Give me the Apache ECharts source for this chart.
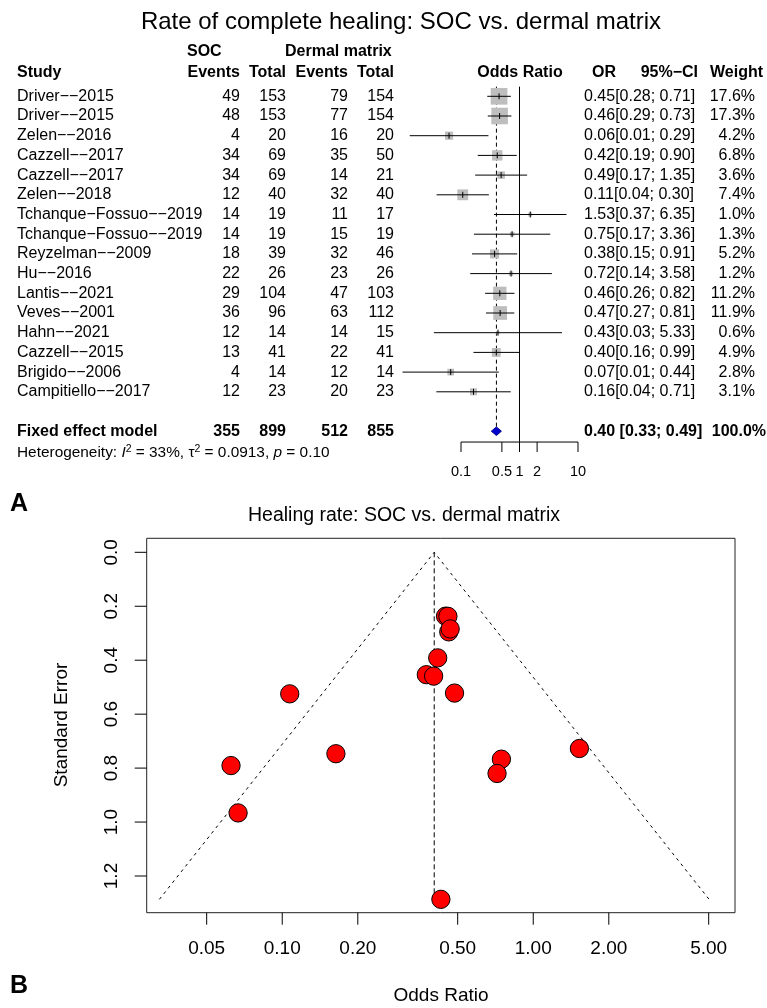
<!DOCTYPE html>
<html><head><meta charset="utf-8">
<script src="https://cdn.jsdelivr.net/npm/echarts@6/dist/echarts.min.js"></script>
<style>html,body{margin:0;padding:0;background:#fff}#c{width:767px;height:1008px}</style>
</head><body><div id="c"></div>
<script>
// ---------------- data ----------------
const studies = ['Driver−−2015','Driver−−2015','Zelen−−2016','Cazzell−−2017','Cazzell−−2017','Zelen−−2018',
  'Tchanque−Fossuo−−2019','Tchanque−Fossuo−−2019','Reyzelman−−2009','Hu−−2016','Lantis−−2021','Veves−−2001',
  'Hahn−−2021','Cazzell−−2015','Brigido−−2006','Campitiello−−2017'];
const socEvents = [49,48,4,34,34,12,14,14,18,22,29,36,12,13,4,12];
const socTotal  = [153,153,20,69,69,40,19,19,39,26,104,96,14,41,14,23];
const dmEvents  = [79,77,16,35,14,32,11,15,32,23,47,63,14,22,12,20];
const dmTotal   = [154,154,20,50,21,40,17,19,46,26,103,112,15,41,14,23];
const oddsRatio = [0.4473,0.4571,0.0625,0.4163,0.4857,0.1071,1.5273,0.7467,0.375,0.7174,0.4607,0.4667,0.4286,0.401,0.0667,0.1636];
const ciLower   = [0.2813,0.2871,0.0133,0.1933,0.1747,0.0383,0.3671,0.1661,0.1541,0.1438,0.2585,0.2674,0.0344,0.1631,0.0100,0.0379];
const ciUpper   = [0.7113,0.7278,0.2943,0.8965,1.3507,0.2996,6.354,3.357,0.9126,3.578,0.8212,0.8144,5.333,0.986,0.4429,0.7071];
const weights   = [17.6,17.3,4.2,6.8,3.6,7.4,1.0,1.3,5.2,1.2,11.2,11.9,0.6,4.9,2.8,3.1];
const stdErr    = [0.2367,0.2373,0.7906,0.3914,0.5218,0.5247,0.7273,0.7669,0.4537,0.8199,0.2949,0.2841,1.2864,0.459,0.9661,0.7467];
const fixedTotals = [355,899,512,855];
const fixedEst = 0.4032, fixedLower = 0.33, fixedUpper = 0.49;
const fixedLabel = 'Fixed effect model';
const fixedText = '0.40 [0.33; 0.49]';
const fixedWeight = '100.0%';
const forestTicks = [0.1,0.5,1,2,10];
const forestTickLabels = ['0.1','0.5','1','2','10'];
const funnelXTicks = [0.05,0.1,0.2,0.5,1,2,5];
const funnelXLabels = ['0.05','0.10','0.20','0.50','1.00','2.00','5.00'];
const funnelYTicks = [0,0.2,0.4,0.6,0.8,1.0,1.2];
const funnelYLabels = ['0.0','0.2','0.4','0.6','0.8','1.0','1.2'];
const funnelSeMax = 1.2864;
const funnelContour = [[0.0324,1.2864],[0.4032,0],[5.018,1.2864]];

// ---------------- layout ----------------
const FONT = '"Liberation Sans", Arial, Helvetica, sans-serif';
const F = (sz, w) => (w ? 'bold ' : '') + sz + 'px ' + FONT;
const ROW_FS = 16;
const colRight = {socE:240, socT:286, dmE:348, dmT:394, ci:698, w:755};
const STUDY_X = 17, EST_X = 584;
const BOX_MAX = 16.7;
const fmt2 = v => (Math.round(v*100)/100).toFixed(2);

const chart = echarts.init(document.getElementById('c'), null, {renderer:'canvas'});

function txt(x, y, text, opt) {
  opt = opt || {};
  return {type:'text', x:x, y:y, rotation: opt.rotation || 0, silent:true,
    style:{text:text, font:F(opt.size||ROW_FS, opt.bold), fill:'#000',
      textAlign:opt.align||'left', textVerticalAlign:'middle', rich: opt.rich}};
}

const rowData = studies.map((s,i)=>[oddsRatio[i], i, ciLower[i], ciUpper[i], weights[i]]);
const textData = studies.map((s,i)=>[1, i]);

const option = {
  animation:false,
  backgroundColor:'#fff',
  grid:[
    {left:402.5, top:96.3, width:175.5, height:334.9, show:false},
    {left:146.7, top:538.3, width:588.3, height:374.4, show:true, borderColor:'#222', borderWidth:1, backgroundColor:'transparent'}
  ],
  xAxis:[
    {gridIndex:0, type:'log', logBase:10, min:0.01, max:10, show:false},
    {gridIndex:1, type:'log', logBase:10, min:0.02884, max:6.365, axisLine:{show:false}, axisTick:{show:false}, axisLabel:{show:false}, splitLine:{show:false}}
  ],
  yAxis:[
    {gridIndex:0, type:'value', min:0, max:17, inverse:true, show:false},
    {gridIndex:1, type:'value', min:-0.0519, max:1.336, inverse:true, axisLine:{show:false}, axisTick:{show:false}, axisLabel:{show:false}, splitLine:{show:false}}
  ],
  graphic:[
    txt(401, 22, 'Rate of complete healing: SOC vs. dermal matrix', {size:24, align:'center'}),
    txt(187, 51.3, 'SOC', {bold:true}),
    txt(285, 51.3, 'Dermal matrix', {bold:true}),
    txt(STUDY_X, 72.5, 'Study', {bold:true}),
    txt(colRight.socE, 72.5, 'Events', {bold:true, align:'right'}),
    txt(colRight.socT, 72.5, 'Total', {bold:true, align:'right'}),
    txt(colRight.dmE, 72.5, 'Events', {bold:true, align:'right'}),
    txt(colRight.dmT, 72.5, 'Total', {bold:true, align:'right'}),
    txt(520, 72.5, 'Odds Ratio', {bold:true, align:'center'}),
    txt(616, 72.5, 'OR', {bold:true, align:'right'}),
    txt(colRight.ci, 72.5, '95%−CI', {bold:true, align:'right'}),
    txt(763, 72.5, 'Weight', {bold:true, align:'right'}),
    {type:'text', x:STUDY_X, y:452.7, silent:true, style:{
      text:'Heterogeneity: {i|I}{s|2} = 33%, τ{s|2} = 0.0913, {i|p} = 0.10',
      font:F(15.4), fill:'#000', textAlign:'left', textVerticalAlign:'middle',
      rich:{i:{fontStyle:'italic', fontSize:15.4, fontFamily:FONT}, s:{fontSize:10.5, fontFamily:FONT, padding:[0,0,8,0]}}}},
    txt(10, 504, 'A', {size:25, bold:true}),
    txt(404, 516, 'Healing rate: SOC vs. dermal matrix', {size:19.5, align:'center'}),
    txt(62, 725, 'Standard Error', {size:19, align:'center', rotation:Math.PI/2}),
    txt(441, 996, 'Odds Ratio', {size:19, align:'center'}),
    txt(10, 986, 'B', {size:25, bold:true})
  ],
  series:[
    // forest: reference lines
    {type:'custom', xAxisIndex:0, yAxisIndex:0, silent:true, clip:false, z:1,
     data:[[1, -0.49, 17.56, 0], [fixedEst, -0.49, 16.8, 1]],
     renderItem:(p, api)=>{
       const a = api.coord([api.value(0), api.value(1)]);
       const b = api.coord([api.value(0), api.value(2)]);
       return {type:'line', shape:{x1:a[0], y1:a[1], x2:b[0], y2:b[1]},
         style:{stroke:'#000', lineWidth:1, lineDash: api.value(3) ? [4,3] : null}};
     }},
    // forest: study rows
    {type:'custom', xAxisIndex:0, yAxisIndex:0, silent:true, clip:false, z:2,
     data:rowData,
     renderItem:(p, api)=>{
       const r = api.value(1);
       const e = api.coord([api.value(0), r]);
       const lo = api.coord([api.value(2), r]);
       const hi = api.coord([api.value(3), r]);
       const s = BOX_MAX*Math.sqrt(api.value(4)/17.6);
       return {type:'group', children:[
         {type:'rect', shape:{x:e[0]-s/2, y:e[1]-s/2, width:s, height:s}, style:{fill:'#BEBEBE'}},
         {type:'line', shape:{x1:lo[0], y1:e[1], x2:hi[0], y2:e[1]}, style:{stroke:'#000', lineWidth:1}},
         {type:'line', shape:{x1:e[0], y1:e[1]-3, x2:e[0], y2:e[1]+3}, style:{stroke:'#000', lineWidth:1}}
       ]};
     }},
    // forest: diamond
    {type:'custom', xAxisIndex:0, yAxisIndex:0, silent:true, clip:false, z:3,
     data:[[fixedEst, 17, fixedLower, fixedUpper]],
     renderItem:(p, api)=>{
       const r = api.value(1);
       const e = api.coord([api.value(0), r]);
       const lo = api.coord([api.value(2), r]);
       const hi = api.coord([api.value(3), r]);
       const h = 4.3;
       return {type:'polygon', shape:{points:[[lo[0],e[1]],[e[0],e[1]-h],[hi[0],e[1]],[e[0],e[1]+h]]},
         style:{fill:'#0000CD', stroke:'#00008B', lineWidth:1}};
     }},
    // forest: axis
    {type:'custom', xAxisIndex:0, yAxisIndex:0, silent:true, clip:false, z:2,
     data:forestTicks.map((t,i)=>[t, i]),
     renderItem:(p, api)=>{
       const t = api.value(0), i = api.value(1);
       const a = api.coord([t, 17.55]);
       const children = [
         {type:'line', shape:{x1:a[0], y1:a[1], x2:a[0], y2:a[1]+10}, style:{stroke:'#000', lineWidth:1}},
         {type:'text', x:a[0], y:a[1]+30, style:{text:forestTickLabels[i], font:F(14.5), fill:'#000', textAlign:'center', textVerticalAlign:'middle'}}
       ];
       if (i === 0) {
         const b = api.coord([forestTicks[forestTicks.length-1], 17.55]);
         children.push({type:'line', shape:{x1:a[0], y1:a[1], x2:b[0], y2:b[1]}, style:{stroke:'#000', lineWidth:1}});
       }
       return {type:'group', children};
     }},
    // forest: table text
    {type:'custom', xAxisIndex:0, yAxisIndex:0, silent:true, clip:false, z:2,
     data:textData.concat([[1, 17]]),
     renderItem:(p, api)=>{
       const r = api.value(1);
       const y = api.coord([1, r])[1];
       const T = (x, s, al, b) => ({type:'text', x:x, y:y, style:{text:String(s), font:F(ROW_FS, b), fill:'#000', textAlign:al, textVerticalAlign:'middle'}});
       if (r === 17) {
         return {type:'group', children:[
           T(STUDY_X, fixedLabel, 'left', true),
           T(colRight.socE, fixedTotals[0], 'right', true),
           T(colRight.socT, fixedTotals[1], 'right', true),
           T(colRight.dmE, fixedTotals[2], 'right', true),
           T(colRight.dmT, fixedTotals[3], 'right', true),
           T(EST_X, fixedText, 'left', true),
           T(766, fixedWeight, 'right', true)
         ]};
       }
       return {type:'group', children:[
         T(STUDY_X, studies[r], 'left'),
         T(colRight.socE, socEvents[r], 'right'),
         T(colRight.socT, socTotal[r], 'right'),
         T(colRight.dmE, dmEvents[r], 'right'),
         T(colRight.dmT, dmTotal[r], 'right'),
         T(EST_X, fmt2(oddsRatio[r]) + '[' + fmt2(ciLower[r]) + '; ' + fmt2(ciUpper[r]) + ']', 'left'),
         T(colRight.w, weights[r].toFixed(1) + '%', 'right')
       ]};
     }},
    // funnel: contour lines
    {type:'line', xAxisIndex:1, yAxisIndex:1, data:funnelContour, symbol:'none', silent:true, z:1,
     lineStyle:{color:'#000', width:1, type:[3,4]}},
    {type:'line', xAxisIndex:1, yAxisIndex:1, data:[[fixedEst,0],[fixedEst,funnelSeMax]], symbol:'none', silent:true, z:1,
     lineStyle:{color:'#000', width:1, type:[5,3]}},
    // funnel: points
    {type:'scatter', xAxisIndex:1, yAxisIndex:1, silent:true, z:3,
     data:stdErr.map((se,i)=>[oddsRatio[i], se]), symbol:'circle', symbolSize:18.3,
     itemStyle:{color:'#FF0000', borderColor:'#000', borderWidth:1, opacity:1}},
    // funnel: x axis ticks
    {type:'custom', xAxisIndex:1, yAxisIndex:1, silent:true, clip:false, z:2,
     data:funnelXTicks.map((t,i)=>[t, i]),
     renderItem:(p, api)=>{
       const cs = p.coordSys;
       const x = api.coord([api.value(0), 0])[0];
       const yb = cs.y + cs.height;
       return {type:'group', children:[
         {type:'line', shape:{x1:x, y1:yb, x2:x, y2:yb+12}, style:{stroke:'#000', lineWidth:1}},
         {type:'text', x:x, y:yb+36, style:{text:funnelXLabels[api.value(1)], font:F(19), fill:'#000', textAlign:'center', textVerticalAlign:'middle'}}
       ]};
     }},
    // funnel: y axis ticks
    {type:'custom', xAxisIndex:1, yAxisIndex:1, silent:true, clip:false, z:2,
     data:funnelYTicks.map((t,i)=>[1, t, i]),
     encode:{x:0, y:1},
     renderItem:(p, api)=>{
       const cs = p.coordSys;
       const y = api.coord([1, api.value(1)])[1];
       const xl = cs.x;
       return {type:'group', children:[
         {type:'line', shape:{x1:xl-12, y1:y, x2:xl, y2:y}, style:{stroke:'#000', lineWidth:1}},
         {type:'text', x:xl-35, y:y, rotation:Math.PI/2, style:{text:funnelYLabels[api.value(2)], font:F(19), fill:'#000', textAlign:'center', textVerticalAlign:'middle'}}
       ]};
     }}
  ]
};
chart.setOption(option);
</script>
</body></html>
